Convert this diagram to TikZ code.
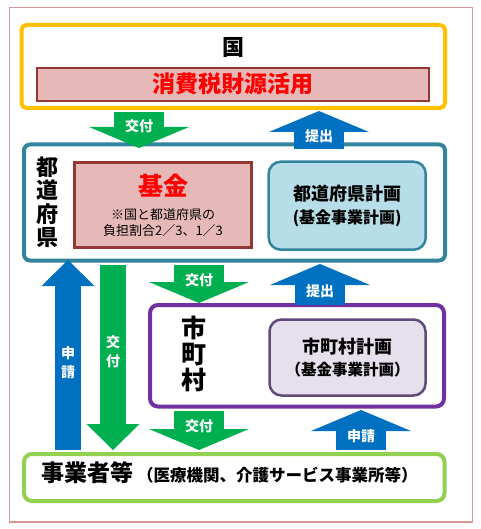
\documentclass[tikz,border=0pt]{standalone}
\usepackage{fontspec}
\setmainfont{Noto Sans CJK JP}
\usetikzlibrary{arrows.meta,calc}

\definecolor{framepink}{HTML}{D99694}
\definecolor{kuniyellow}{HTML}{FFC000}
\definecolor{zaigenfill}{HTML}{E6B9B8}
\definecolor{zaigenline}{HTML}{953735}
\definecolor{redtext}{HTML}{FF0000}
\definecolor{todoteal}{HTML}{31849B}
\definecolor{planbluefill}{HTML}{B7DEE8}
\definecolor{shichopurple}{HTML}{7030A0}
\definecolor{planpurplefill}{HTML}{E6E0EC}
\definecolor{planpurpleline}{HTML}{604A7B}
\definecolor{jigyogreen}{HTML}{92D050}
\definecolor{kofugreen}{HTML}{00B050}
\definecolor{shinblue}{HTML}{0070C0}

\begin{document}
\begin{tikzpicture}[x=1pt, y=-1pt,
	every node/.style={inner sep=0pt},
	bigflow/.style={line width=50pt, -{Triangle[length=21pt 0 0, width=100pt 0 0, line width=0pt 0 0]}},
	thinflow/.style={line width=26pt, -{Triangle[length=26pt 0 0, width=53pt 0 0, line width=0pt 0 0]}},
	kofu/.style={draw=kofugreen},
	shinsei/.style={draw=shinblue},
	tag/.style={text=white, font=\bfseries\fontsize{14}{14}\selectfont},
	vtag/.style={text=white, align=center, font=\bfseries\fontsize{14}{19}\selectfont},
	planbox/.style={draw, line width=2.5pt, rounded corners=12pt, align=center, font=\bfseries\fontsize{18}{23.5}\selectfont}]
\useasboundingbox (0,0) rectangle (480,529);
\draw[framepink, line width=1.8pt] (9.5,7.5) rectangle (472.5,522);

% kuni
\node[draw=kuniyellow, line width=4pt, rounded corners=5pt, minimum width=423.5pt, minimum height=83pt] (kuni) at (233.25,66.5) {};
\node[font=\bfseries\fontsize{22}{22}\selectfont] (kunititle) at (233.3,47.5) {国};
\node[draw=zaigenline, fill=zaigenfill, line width=2pt, minimum width=392pt, minimum height=33pt, text=redtext, font=\bfseries\fontsize{23}{23}\selectfont] (zaigen) at (233,84.2) {消費税財源活用};

% todofuken
\node[draw=todoteal, line width=4pt, rounded corners=6pt, minimum width=421pt, minimum height=116pt] (todo) at (234.5,202.5) {};
\node[align=center, font=\bfseries\fontsize{22}{23.5}\selectfont] (todotitle) at (47,202) {都\\道\\府\\県};
\node[draw=zaigenline, fill=zaigenfill, line width=2.5pt, minimum width=177pt, minimum height=85pt] (kikin) at (163,205) {};
\node[text=redtext, font=\bfseries\fontsize{25}{25}\selectfont] (kikintitle) at (163,185.5) {基金};
\node[align=center, font=\fontsize{13}{16}\selectfont] (kikinnote) at (163,223) {※国と都道府県の\\負担割合2／3、1／3};
\node[planbox, draw=todoteal, fill=planbluefill, minimum width=157pt, minimum height=88pt] (todoplan) at (347.2,205.7) {都道府県計画\\{\fontsize{16}{23.5}\selectfont (基金事業計画)}};

% shichoson
\node[draw=shichopurple, line width=4pt, rounded corners=8pt, minimum width=294pt, minimum height=101.5pt] (shicho) at (297,355.75) {};
\node[align=center, font=\bfseries\fontsize{25}{26}\selectfont] (shichotitle) at (193.5,354) {市\\町\\村};
\node[planbox, draw=planpurpleline, fill=planpurplefill, minimum width=156pt, minimum height=76pt, font=\bfseries\fontsize{18}{21.5}\selectfont] (shichoplan) at (347.5,357.5) {市町村計画\\{\fontsize{15.5}{21.5}\selectfont （基金事業計画）}};

% jigyosha
\node[draw=jigyogreen, line width=4pt, rounded corners=8pt, minimum width=420.5pt, minimum height=47pt] (jigyo) at (234.25,477.5) {};
\node[anchor=base west, font=\bfseries\fontsize{23}{23}\selectfont] (jigyotext) at (41,481.5) {事業者等\hspace{4pt}{\fontsize{16.5}{16.5}\selectfont （医療機関、介護サービス事業所等）}};

% arrow columns
\coordinate (colA) at (139,0);
\coordinate (colB) at (319,0);
\coordinate (colC) at (68,0);
\coordinate (colD) at (113,0);
\coordinate (colE) at (199,0);
\coordinate (colF) at (320,0);
\coordinate (colG) at (361,0);

\draw[bigflow, kofu] ($(kuni.south -| colA)+(0,2)$) -- ($(todo.north -| colA)+(0,5.5)$) node[tag, pos=0.4] {交付};
\draw[bigflow, shinsei] ($(todo.north -| colB)+(0,6.5)$) -- ($(kuni.south -| colB)+(0,1)$) node[tag, pos=0.33] {提出};
\draw[thinflow, shinsei] ($(jigyo.north -| colC)+(0,-2)$) -- ($(todo.south -| colC)+(0,-2.5)$) node[vtag, pos=0.46] {申\\請};
\draw[thinflow, kofu] ($(todo.south -| colD)+(0,2)$) -- ($(jigyo.north -| colD)+(0,-2)$) node[vtag, pos=0.47] {交\\付};
\draw[bigflow, kofu] ($(todo.south -| colE)+(0,2)$) -- (shicho.north -| colE) node[tag, pos=0.41] {交付};
\draw[bigflow, shinsei] ($(shicho.north -| colF)+(0,2)$) -- ($(todo.south -| colF)+(0,1.5)$) node[tag, pos=0.33] {提出};
\draw[bigflow, kofu] ($(shicho.south -| colE)+(0,2)$) -- ($(jigyo.north -| colE)+(0,-2)$) node[tag, pos=0.4] {交付};
\draw[bigflow, shinsei] ($(jigyo.north -| colG)+(0,-2)$) -- ($(shicho.south -| colG)+(0,1.5)$) node[tag, pos=0.34] {申請};

\end{tikzpicture}
\end{document}
